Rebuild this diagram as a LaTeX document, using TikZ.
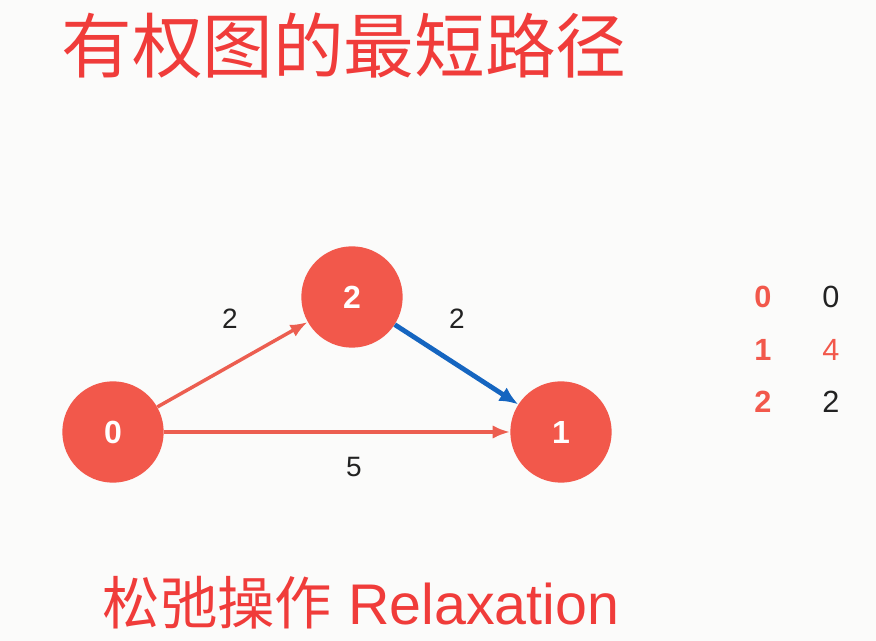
\documentclass[tikz,border=0pt]{standalone}
\usepackage{xcolor}
\usepackage{fontspec}
\usepackage{tikz}
\usetikzlibrary{arrows.meta}
\setmainfont{Liberation Sans}
\newfontfamily\cjk{Noto Sans CJK SC}
\definecolor{titlered}{HTML}{F03C3A}
\definecolor{vertexred}{HTML}{F2584B}
\definecolor{edgered}{HTML}{EC5E50}
\definecolor{relaxblue}{HTML}{1565C0}
\definecolor{ink}{HTML}{222222}
\definecolor{paper}{HTML}{FBFBFA}

\begin{document}
\begin{tikzpicture}[
  x=0.75pt, y=-0.75pt,
  vertex/.style={circle, fill=vertexred, minimum size=76pt, inner sep=0pt, text=white, font=\fontsize{24}{24}\selectfont\bfseries},
  weight/.style={text=ink, font=\fontsize{21}{21}\selectfont},
  edge/.style={-{Latex[length=13pt,width=10pt]}, line width=2.6pt, edgered},
  relaxed/.style={-{Latex[length=14pt,width=12pt]}, line width=3.6pt, relaxblue},
  key/.style={text=vertexred, font=\fontsize{23}{23}\selectfont\bfseries},
  dist/.style={text=ink, font=\fontsize{23}{23}\selectfont}
]
\fill[paper] (0,0) rectangle (876,641);
\useasboundingbox (0,0) rectangle (876,641);
% title and caption
\node[text=titlered, font=\cjk\fontsize{53}{53}\selectfont] (title) at (344,46) {有权图的最短路径};
\node[text=titlered, font=\fontsize{43}{43}\selectfont] (caption) at (361,603) {{\cjk 松弛操作} Relaxation};
% graph
\node[vertex] (v0) at (113,432) {0};
\node[vertex] (v2) at (352,297) {2};
\node[vertex] (v1) at (561,432) {1};
\draw[edge] (v0) -- (v2);
\draw[edge] (v0) -- (v1);
\draw[relaxed] (v2) -- (v1);
\node[weight] (w02) at (230,319) {2};
\node[weight] (w21) at (457,319) {2};
\node[weight] (w01) at (354,467) {5};
% distance table
\node[key] (k0) at (763,297) {0};
\node[key] (k1) at (763,350) {1};
\node[key] (k2) at (763,402) {2};
\node[dist] (d0) at (831,297) {0};
\node[dist, text=vertexred] (d1) at (831,350) {4};
\node[dist] (d2) at (831,402) {2};
\end{tikzpicture}
\end{document}
